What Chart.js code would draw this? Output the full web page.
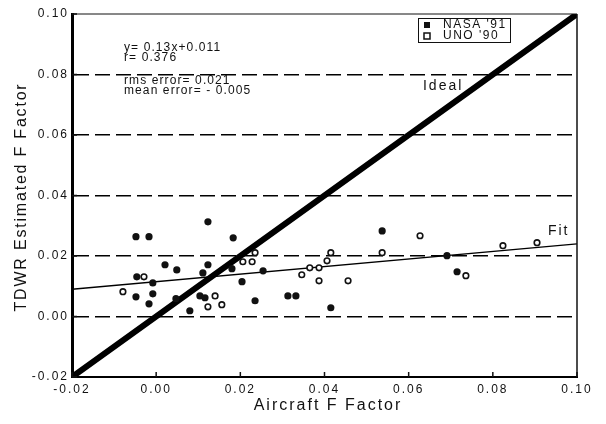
<!DOCTYPE html>
<html>
<head>
<meta charset="utf-8">
<script src="https://cdn.jsdelivr.net/npm/chart.js@4"></script>
<style>
  body { margin: 0; background: #fff; }
  canvas { display: block; }
</style>
</head>
<body>
<canvas id="chart" width="606" height="424"></canvas>
<script>
// data
const nasaX = [-0.0048, -0.0017, 0.0123, 0.0183, 0.0537, 0.0021, 0.0049, 0.0123, -0.0046, -0.0008,
	-0.0048, -0.0008, -0.0017, 0.0080, 0.0047, 0.0111, 0.0180, 0.0254, 0.0204, 0.0104,
	0.0116, 0.0235, 0.0313, 0.0332, 0.0415, 0.0715, 0.0691];
const nasaY = [0.0264, 0.0264, 0.0313, 0.0260, 0.0283, 0.0171, 0.0154, 0.0171, 0.0131, 0.0111,
	0.0065, 0.0075, 0.0042, 0.0019, 0.0059, 0.0144, 0.0158, 0.0151, 0.0115, 0.0068,
	0.0062, 0.0052, 0.0068, 0.0068, 0.0029, 0.0148, 0.0201];
const unoX = [0.0627, -0.0029, -0.0079, 0.0235, 0.0206, 0.0228, 0.0140, 0.0123, 0.0156, 0.0415,
	0.0537, 0.0406, 0.0365, 0.0387, 0.0346, 0.0387, 0.0456, 0.0824, 0.0905, 0.0736];
const unoY = [0.0267, 0.0131, 0.0082, 0.0211, 0.0181, 0.0181, 0.0068, 0.0032, 0.0039, 0.0211,
	0.0211, 0.0184, 0.0161, 0.0161, 0.0138, 0.0118, 0.0118, 0.0234, 0.0244, 0.0135];
const idealX = [-0.02, 0.10];
const idealY = [-0.02, 0.10];
const fitX = [-0.02, 0.10];
const fitY = [0.009, 0.024];
const statLines = ["y= 0.13x+0.011", "r= 0.376", "rms error= 0.021", "mean error= - 0.005"];
const seriesNames = ["NASA '91", "UNO '90"];
const xTitle = 'Aircraft F Factor';
const yTitle = 'TDWR Estimated F Factor';

const FONT = "'Liberation Sans', Arial, sans-serif";
const INK = '#111';

const toPts = (xs, ys) => xs.map((x, i) => ({ x: x, y: ys[i] }));
const isEdge = (v) => Math.abs(v - 0.10) < 1e-6 || Math.abs(v + 0.02) < 1e-6;

const extras = {
	id: 'extras',
	beforeDraw: (chart) => {
		// the scanned lettering is set wide
		chart.ctx.letterSpacing = '2px';
	},
	afterDraw: (chart) => {
		const ctx = chart.ctx;
		const a = chart.chartArea;
		const xs = chart.scales.x;
		const ys = chart.scales.y;
		ctx.save();
		ctx.strokeStyle = INK;
		// top and right frame
		ctx.lineWidth = 1;
		ctx.beginPath();
		ctx.moveTo(a.left, a.top);
		ctx.lineTo(a.right, a.top);
		ctx.stroke();
		ctx.lineWidth = 1.5;
		ctx.beginPath();
		ctx.moveTo(a.right, a.top);
		ctx.lineTo(a.right, a.bottom);
		ctx.stroke();
		// inward ticks
		xs.ticks.forEach(t => {
			const px = xs.getPixelForValue(t.value);
			ctx.beginPath();
			ctx.moveTo(px, a.bottom);
			ctx.lineTo(px, a.bottom - 5);
			ctx.stroke();
		});
		ys.ticks.forEach(t => {
			const py = ys.getPixelForValue(t.value);
			ctx.beginPath();
			ctx.moveTo(a.left, py);
			ctx.lineTo(a.left + 5, py);
			ctx.stroke();
		});
		ctx.fillStyle = INK;
		ctx.textBaseline = 'middle';
		// axis titles
		ctx.textAlign = 'center';
		ctx.font = `16px ${FONT}`;
		ctx.letterSpacing = '2px';
		ctx.fillText(xTitle, 328, 406);
		ctx.save();
		ctx.translate(22, 197);
		ctx.rotate(-Math.PI / 2);
		ctx.letterSpacing = '1.8px';
		ctx.fillText(yTitle, 0, 0);
		ctx.restore();
		// stats text
		ctx.textAlign = 'left';
		ctx.font = `12px ${FONT}`;
		ctx.letterSpacing = '1.1px';
		[48, 58, 81, 91].forEach((y, i) => ctx.fillText(statLines[i], 124, y));
		// line labels
		ctx.font = `14px ${FONT}`;
		ctx.letterSpacing = '2px';
		ctx.fillText('Ideal', xs.getPixelForValue(0.0634), ys.getPixelForValue(0.0762));
		ctx.fillText('Fit', xs.getPixelForValue(0.0931), ys.getPixelForValue(0.0283));
		// legend
		ctx.lineWidth = 1;
		ctx.strokeRect(418.5, 18.5, 92, 24);
		ctx.font = `12px ${FONT}`;
		ctx.letterSpacing = '1.5px';
		ctx.fillText(seriesNames[0], 443, 25);
		ctx.fillText(seriesNames[1], 443, 36);
		ctx.fillRect(424, 22, 6, 6);
		ctx.fillStyle = '#fff';
		ctx.fillRect(424, 33, 6, 6);
		ctx.lineWidth = 1.5;
		ctx.strokeRect(424, 33, 6, 6);
		ctx.restore();
		ctx.letterSpacing = '0px';
	}
};

new Chart(document.getElementById('chart'), {
	type: 'scatter',
	data: {
		datasets: [
			{
				label: seriesNames[0],
				data: toPts(nasaX, nasaY),
				pointStyle: 'circle',
				pointRadius: 3.6,
				backgroundColor: INK,
				borderColor: INK,
				borderWidth: 0,
				order: 1
			},
			{
				label: seriesNames[1],
				data: toPts(unoX, unoY),
				pointStyle: 'circle',
				pointRadius: 2.8,
				backgroundColor: '#fff',
				borderColor: INK,
				borderWidth: 1.6,
				order: 1
			},
			{
				label: 'Ideal',
				data: toPts(idealX, idealY),
				showLine: true,
				borderColor: '#000',
				borderWidth: 6,
				borderCapStyle: 'round',
				pointRadius: 0,
				order: 2
			},
			{
				label: 'Fit',
				data: toPts(fitX, fitY),
				showLine: true,
				borderColor: '#000',
				borderWidth: 1.3,
				pointRadius: 0,
				order: 2
			}
		]
	},
	options: {
		responsive: false,
		animation: false,
		layout: { padding: { top: 14, right: 29, left: 0, bottom: 0 } },
		plugins: {
			legend: { display: false },
			tooltip: { enabled: false }
		},
		scales: {
			x: {
				type: 'linear',
				min: -0.02,
				max: 0.10,
				afterFit: (s) => { s.height = 47; },
				grid: { display: false, drawTicks: false },
				border: { display: true, width: 2, color: '#000' },
				ticks: {
					stepSize: 0.02,
					autoSkip: false,
					padding: 5,
					color: INK,
					font: { family: FONT, size: 12 },
					callback: (v) => Number(v).toFixed(2)
				},
				title: { display: false }
			},
			y: {
				type: 'linear',
				min: -0.02,
				max: 0.10,
				afterFit: (s) => { s.width = 72; },
				grid: {
					drawTicks: false,
					lineWidth: 1.4,
					color: (c) => (c.tick && isEdge(c.tick.value)) ? 'rgba(0,0,0,0)' : '#000'
				},
				border: { display: true, width: 3, color: '#000', dash: [15, 6] },
				ticks: {
					stepSize: 0.02,
					autoSkip: false,
					padding: 3,
					color: INK,
					font: { family: FONT, size: 12 },
					callback: (v) => Number(v).toFixed(2)
				},
				title: { display: false }
			}
		}
	},
	plugins: [extras]
});
</script>
</body>
</html>
